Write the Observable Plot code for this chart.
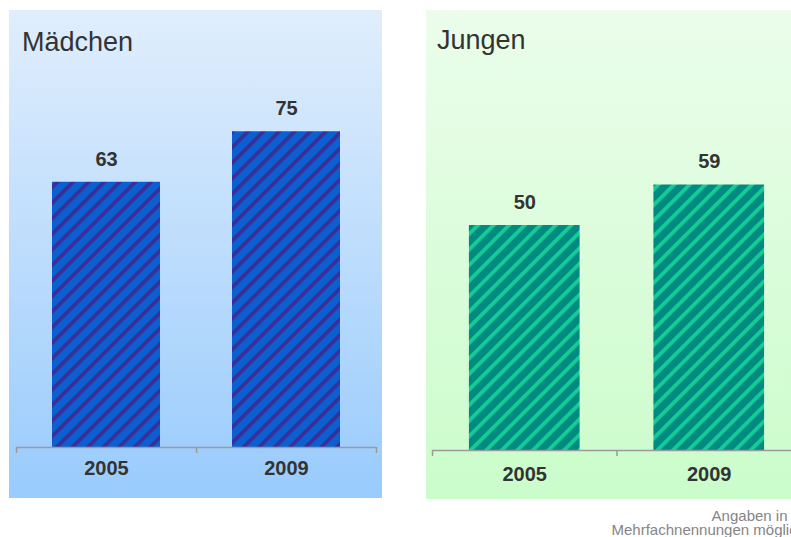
<!DOCTYPE html>
<html>
<head>
<meta charset="utf-8">
<script src="https://cdn.jsdelivr.net/npm/d3@7"></script>
<script src="https://cdn.jsdelivr.net/npm/@observablehq/plot@0.6"></script>
<style>
  html, body { margin: 0; padding: 0; width: 791px; height: 537px; overflow: hidden; background: #fff; font-family: "Liberation Sans", Arial, sans-serif; }
  .panel { position: absolute; }
  .panel svg { max-width: none !important; }
  .title { position: absolute; font-size: 27px; line-height: 27px; color: #333; white-space: nowrap; }
  .note { position: absolute; left: 500px; width: 305px; text-align: right; font-size: 15px; line-height: 14px; color: #858585; white-space: nowrap; }
</style>
</head>
<body>
<div id="left" class="panel" style="left:9px; top:10px; width:373px;"></div>
<div id="right" class="panel" style="left:426px; top:10px; width:400px;"></div>
<div class="title" style="left:22px; top:29px;">Mädchen</div>
<div class="title" style="left:437px; top:27px;">Jungen</div>
<div class="note" style="top:509px;">Angaben in %<br>Mehrfachnennungen möglich</div>
<script>
// ---- data ----
const years = ["2005", "2009"];
const girls = [63, 75];
const boys = [50, 59];

const girlsData = years.map((y, i) => ({ i, year: y, value: girls[i] }));
const boysData = years.map((y, i) => ({ i, year: y, value: boys[i] }));

function addPattern(svg, id, base, stripe, stripeW) {
  const ns = "http://www.w3.org/2000/svg";
  let defs = svg.querySelector("defs");
  if (!defs) { defs = document.createElementNS(ns, "defs"); svg.insertBefore(defs, svg.firstChild); }
  const p = document.createElementNS(ns, "pattern");
  p.setAttribute("id", id);
  p.setAttribute("patternUnits", "userSpaceOnUse");
  p.setAttribute("width", 11);
  p.setAttribute("height", 11);
  p.setAttribute("patternTransform", "rotate(45)");
  const r1 = document.createElementNS(ns, "rect");
  r1.setAttribute("width", 11); r1.setAttribute("height", 11); r1.setAttribute("fill", base);
  const r2 = document.createElementNS(ns, "rect");
  r2.setAttribute("width", stripeW); r2.setAttribute("height", 11); r2.setAttribute("fill", stripe);
  p.appendChild(r1); p.appendChild(r2);
  defs.appendChild(p);
}

function panel({data, width, height, mt, mb, ml, mr, yMax, fill, bg, yearDy}) {
  return Plot.plot({
    width, height,
    marginTop: mt, marginBottom: mb, marginLeft: ml, marginRight: mr,
    style: { background: bg, fontFamily: "Liberation Sans, Arial, sans-serif", overflow: "visible", maxWidth: "none" },
    x: { domain: [0, data.length], axis: null },
    y: { domain: [0, yMax], axis: null },
    marks: [
      Plot.rect(data, { x1: d => d.i + 0.2, x2: d => d.i + 0.8, y1: 0, y2: "value", fill }),
      Plot.ruleY([0], { stroke: "#9a9a9a", strokeWidth: 1.5 }),
      Plot.axisX({ ticks: d3.range(data.length + 1), tickSize: 6, tickFormat: () => "", stroke: "#9a9a9a", strokeWidth: 1.5 }),
      Plot.text(data, { x: d => d.i + 0.5, y: "value", text: d => String(d.value), dy: -23, fontSize: 20, fontWeight: "bold", fill: "#333" }),
      Plot.text(data, { x: d => d.i + 0.5, y: 0, text: "year", dy: yearDy, fontSize: 20, fontWeight: "bold", fill: "#333" })
    ]
  });
}

const left = panel({
  data: girlsData, width: 373, height: 488, mt: 16, mb: 51, ml: 7, mr: 6, yMax: 100,
  fill: "url(#hatchBlue)", bg: "linear-gradient(to bottom, #e0eefc 0%, #99cbfd 100%)", yearDy: 21
});
addPattern(left, "hatchBlue", "#0a60d0", "#3a2e98", 3.8);
document.getElementById("left").appendChild(left);

const right = panel({
  data: boysData, width: 400, height: 489, mt: 35, mb: 49, ml: 6, mr: 25, yMax: 90,
  fill: "url(#hatchGreen)", bg: "linear-gradient(to bottom, #ebfdeb 0%, #cbfccb 100%)", yearDy: 24
});
addPattern(right, "hatchGreen", "#008a80", "#14cc98", 3.8);
document.getElementById("right").appendChild(right);
</script>
</body>
</html>
